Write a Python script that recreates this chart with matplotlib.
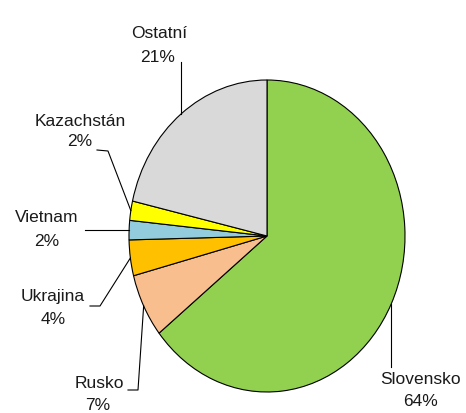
import numpy as np
import matplotlib
matplotlib.use("Agg")
from matplotlib import pyplot as plt

# shares (percent)
countries = ["Slovensko", "Rusko", "Ukrajina", "Vietnam", "Kazachstán", "Ostatní"]
shares = [64.3, 6.6, 3.7, 2.0, 2.0, 21.4]
colors = ["#92D050", "#F8BE8E", "#FFC000", "#93CDDD", "#FFFF00", "#D9D9D9"]

W, H = 466, 413
CX, CY = 267, 236      # pie centre, px from top-left
RX, RY = 138, 156      # pie radii, px (picture is stretched vertically)

# label layout, px: (name centre, pct centre, leader elbow/end points)
label_pos = {
    "Ostatní":    ((159, 33), (158, 57), [(None, 62)]),
    "Kazachstán": ((80, 121), (80, 141), [(108, 151), (97, 150)]),
    "Vietnam":    ((47, 217), (47, 241), [(85, None)]),
    "Ukrajina":   ((53, 296), (53, 320), [(100, 306), (90, 306)]),
    "Rusko":      ((99, 383), (98, 405), [(138, 390), (128, 390)]),
    "Slovensko":  ((421, 379), (421, 402), [(None, 367)]),
}


def px2data(x, y):
    return (x - CX) / RX, (CY - y) / RY


plt.rcParams['font.family'] = ['Liberation Sans', 'DejaVu Sans']

fig = plt.figure(figsize=(W / 100, H / 100), dpi=100)
ax = fig.add_axes([0, 0, 1, 1])
wedges, _ = ax.pie(shares, colors=colors, startangle=90, counterclock=False,
                   wedgeprops=dict(edgecolor="black", linewidth=0.8))
ax.set_aspect('auto')
ax.set_xlim(-CX / RX, (W - CX) / RX)
ax.set_ylim(-(H - CY) / RY, CY / RY)
ax.axis('off')

for w, name, val in zip(wedges, countries, shares):
    ang = np.deg2rad(0.5 * (w.theta1 + w.theta2))
    ex, ey = np.cos(ang), np.sin(ang)
    (nx, ny), (qx, qy), pts = label_pos[name]
    xs, ys = [ex], [ey]
    for px, py in pts:
        dx, dy = px2data(px if px is not None else 0, py if py is not None else 0)
        xs.append(ex if px is None else dx)
        ys.append(ey if py is None else dy)
    ax.plot(xs, ys, color="black", lw=0.8, clip_on=False)
    ax.text(*px2data(nx, ny), name, ha="center", va="center",
            fontsize=12.5, color="#1a1a1a")
    ax.text(*px2data(qx, qy), "{:.0f}%".format(val), ha="center", va="center",
            fontsize=12.5, color="#1a1a1a")

fig.savefig("out.png", dpi=100)
